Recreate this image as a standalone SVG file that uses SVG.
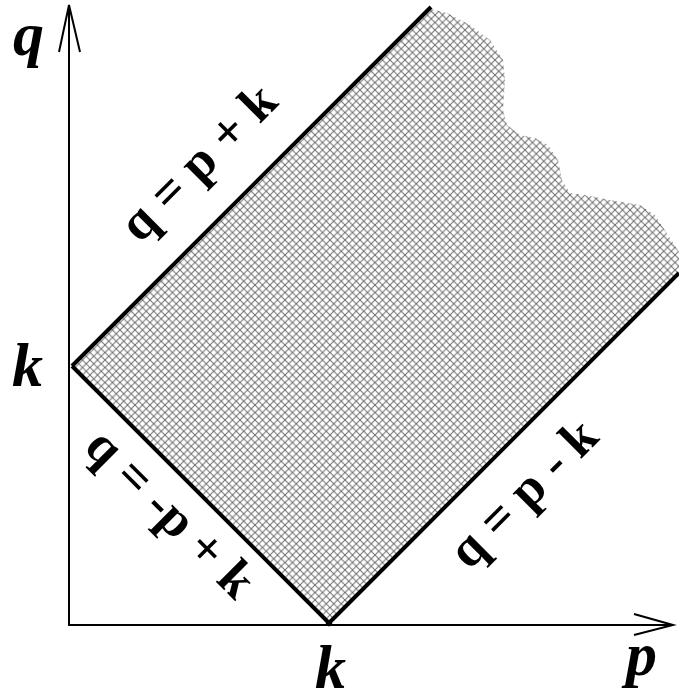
<svg xmlns="http://www.w3.org/2000/svg" width="679" height="696" viewBox="0 0 679 696">
<style>
.ax{stroke:#000;stroke-width:2;fill:none}
.bd{stroke:#000;stroke-width:4;fill:none;stroke-linecap:butt}
.big{font-family:"Liberation Serif","Times New Roman",serif;font-weight:bold;font-style:italic;font-size:62px;fill:#000}
.eq{font-family:"Liberation Serif","Times New Roman",serif;font-weight:bold;font-size:52px;fill:#000}
</style>
<defs>
<pattern id="hatch" width="7.5" height="7.5" patternUnits="userSpaceOnUse">
<path d="M0,0 L7.5,7.5 M7.5,0 L0,7.5" stroke="#6e6e6e" stroke-width="1" fill="none"/>
</pattern>
</defs>
<g id="region">
<path d="M72,366 L431,9 L447,13 L470,25 L490,40 L503,60 L505,80 L503,110 L507,125 L520,135 L535,138 L548,145 L558,160 L562,180 L570,193 L590,196 L610,200 L640,205 L655,215 L668,235 L679,252 L679,273 L329,623 Z" fill="url(#hatch)"/>
</g>
<g id="axes">
<line class="ax" x1="69" y1="625" x2="69" y2="5"/>
<polyline class="ax" points="59,52 69,5 80,52"/>
<line class="ax" x1="68" y1="625" x2="673" y2="625"/>
<polyline class="ax" points="634,614 673,625 634,635"/>
</g>
<g id="boundaries">
<line class="bd" x1="72" y1="366" x2="431" y2="7"/>
<line class="bd" x1="72" y1="366" x2="331" y2="625"/>
<line class="bd" x1="327" y1="625" x2="679" y2="273"/>
</g>
<g id="labels">
<text class="big" x="13" y="55">q</text>
<text class="big" x="12" y="386">k</text>
<text class="big" x="315" y="688">k</text>
<text class="big" x="626" y="675">p</text>
<text class="eq" text-anchor="middle" transform="translate(210,174) rotate(-45)">q = p + k</text>
<text class="eq" text-anchor="middle" transform="translate(159,525) rotate(45)">q = -p + k</text>
<text class="eq" text-anchor="middle" transform="translate(535,505) rotate(-45)">q = p - k</text>
</g>
</svg>
